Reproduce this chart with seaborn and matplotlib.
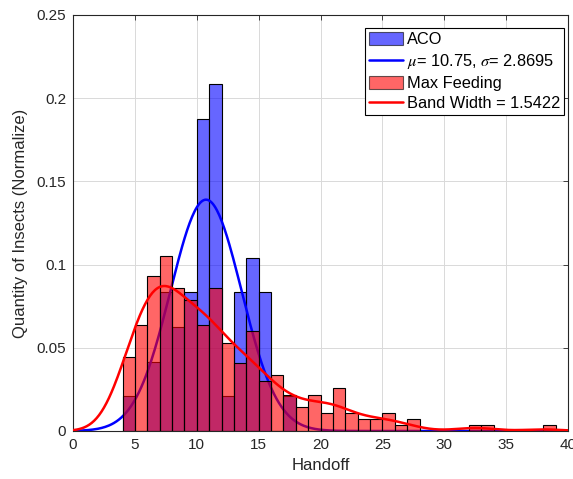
import numpy as np
import pandas as pd
import matplotlib
matplotlib.use("Agg")
import matplotlib.pyplot as plt
from matplotlib.patches import Patch
from matplotlib.lines import Line2D
import seaborn as sns

# ---- data ----
aco_handoff = list(range(4, 18))
aco_prob = [0.0208, 0.0, 0.0417, 0.0833, 0.0625, 0.0833, 0.1875, 0.2083,
            0.0208, 0.0833, 0.1042, 0.0833, 0.0, 0.0208]
aco_mu = 10.75
aco_sigma = 2.8695

mf_handoff = list(range(4, 39))
mf_prob = [0.0447, 0.0638, 0.0934, 0.1050, 0.0861, 0.0789, 0.0638, 0.0861,
           0.0527, 0.0408, 0.0598, 0.0298, 0.0334, 0.0218, 0.0145, 0.0218,
           0.0110, 0.0260, 0.0110, 0.0072, 0.0072, 0.0110, 0.0036, 0.0072,
           0.0, 0.0, 0.0, 0.0, 0.0036, 0.0036, 0.0, 0.0, 0.0, 0.0, 0.0036]
mf_bandwidth = 1.5422

x_ticks = [0, 5, 10, 15, 20, 25, 30, 35, 40]
y_ticks = [0, 0.05, 0.1, 0.15, 0.2, 0.25]

aco_df = pd.DataFrame({'Handoff': aco_handoff, 'p': aco_prob})
mf_df = pd.DataFrame({'Handoff': mf_handoff, 'p': mf_prob})

sns.set_style("white")
plt.rcParams['font.family'] = ['Liberation Sans', 'DejaVu Sans']
plt.rcParams['mathtext.fontset'] = 'stix'

fig = plt.figure(figsize=(5.73, 4.79), dpi=100)
ax = fig.add_axes([73/573, 1-431/479, 495/573, 416/479])

dark = '#262626'

# ACO histogram + normal fit
sns.histplot(data=aco_df, x='Handoff', weights='p', binwidth=1, binrange=(4, 18),
             color='#0000ff', alpha=0.6, edgecolor='black', linewidth=0.8, ax=ax, zorder=1)
xs = np.linspace(0, 40, 400)
aco_curve = np.exp(-0.5*((xs-aco_mu)/aco_sigma)**2)/(np.sqrt(2*np.pi)*aco_sigma)
sns.lineplot(x=xs, y=aco_curve, color='#0000ff', linewidth=1.8, ax=ax, zorder=1.5)

# Max Feeding histogram + kernel fit
sns.histplot(data=mf_df, x='Handoff', weights='p', binwidth=1, binrange=(4, 39),
             color='#ff0000', alpha=0.6, edgecolor='black', linewidth=0.8, ax=ax, zorder=2)
xv = np.array(mf_handoff, dtype=float)
w = np.array(mf_prob)
w = w / w.sum()
m = np.sum(w*xv)
cov = np.sum(w*(xv-m)**2) / (1 - np.sum(w**2))
factor = mf_bandwidth / np.sqrt(cov)
sns.kdeplot(data=mf_df, x='Handoff', weights='p', bw_method=factor, cut=30, clip=(0, 40),
            gridsize=400, color='#ff0000', linewidth=1.8, ax=ax, zorder=3)

ax.set_xlim(0, 40)
ax.set_ylim(0, 0.25)
ax.set_xticks(x_ticks)
ax.set_yticks(y_ticks)
ax.set_xticklabels([str(t) for t in x_ticks])
ax.set_yticklabels(['0', '0.05', '0.1', '0.15', '0.2', '0.25'])
ax.grid(True, color='#d9d9d9', linewidth=0.7)
ax.set_axisbelow(True)
ax.tick_params(direction='in', top=True, right=True, length=3.5, width=0.6,
               colors=dark, labelsize=11, pad=5)
for s in ax.spines.values():
    s.set_color(dark)
    s.set_linewidth(0.8)
ax.set_xlabel('Handoff', fontsize=12, color=dark, labelpad=4)
ax.set_ylabel('Quantity of Insects (Normalize)', fontsize=12, color=dark, labelpad=6)

handles = [Patch(facecolor='#0000ff', alpha=0.6, edgecolor='black', linewidth=0.8),
           Line2D([], [], color='#0000ff', linewidth=1.8),
           Patch(facecolor='#ff0000', alpha=0.6, edgecolor='black', linewidth=0.8),
           Line2D([], [], color='#ff0000', linewidth=1.8)]
labels = ['ACO', r'$\mu$= 10.75, $\sigma$= 2.8695', 'Max Feeding', 'Band Width = 1.5422']
leg = ax.legend(handles, labels, loc='upper right', bbox_to_anchor=(0.992, 0.969),
                borderaxespad=0, fontsize=11.8, fancybox=False, framealpha=1,
                edgecolor='black', handlelength=2.1, handleheight=0.85,
                handletextpad=0.2, borderpad=0.25, labelspacing=0.3)
leg.get_frame().set_linewidth(0.8)
for t in leg.get_texts():
    t.set_color('black')

fig.savefig('out.png', dpi=100)
